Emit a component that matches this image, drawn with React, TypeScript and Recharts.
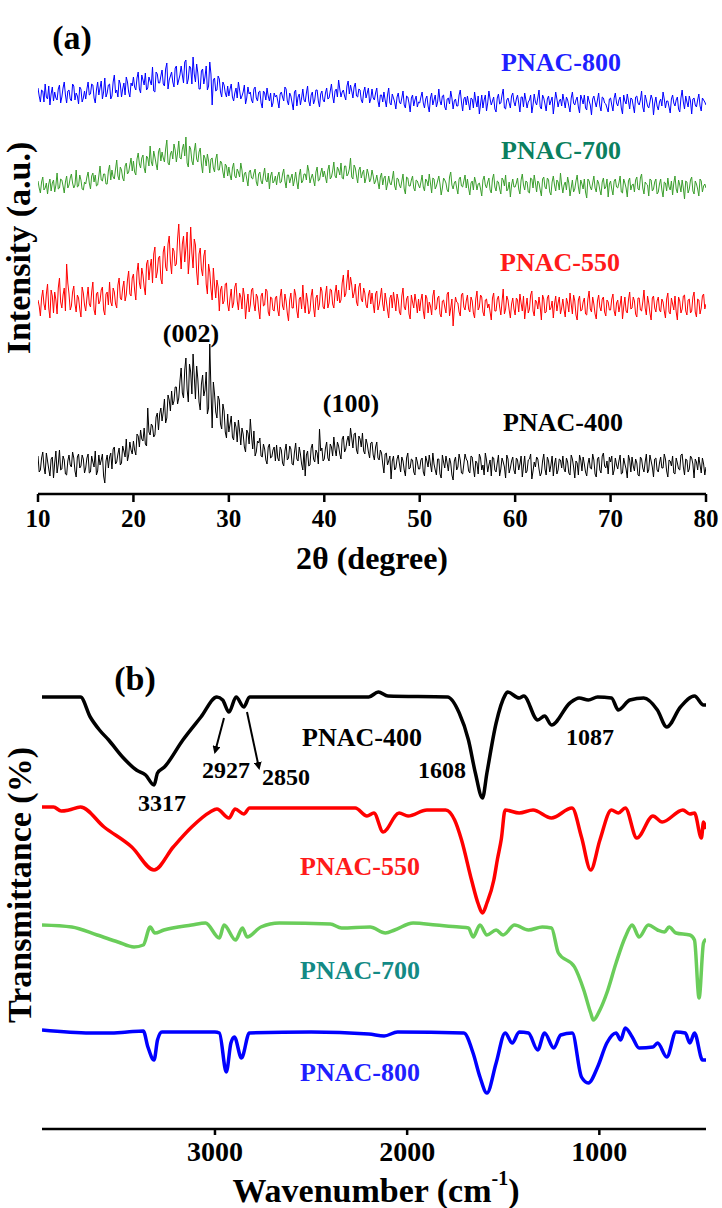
import { LineChart, Line, XAxis, YAxis } from "recharts";

const SERIF = '"Liberation Serif", "Times New Roman", Times, serif';

// ---- (a) XRD, 2θ scan 10–80° ----
// main readings every 0.25°, plus the readings half-way between them
const TWO_THETA_START = 10;
const TWO_THETA_STEP = 0.25;
const XRD_TICKS = [10, 20, 30, 40, 50, 60, 70, 80];

const XRD_400 = [
  38, 24, 42, 20, 33, 18, 37, 31, 21, 44, 25, 34, 19, 39, 27, 36, 17, 40, 28, 35,
  26, 40, 22, 32, 43, 23, 29, 40, 11, 39, 37, 25, 47, 32, 46, 31, 43, 55, 39, 44,
  53, 39, 58, 64, 53, 50, 86, 59, 68, 59, 81, 80, 73, 95, 76, 94, 103, 93, 107, 96,
  126, 96, 136, 92, 122, 140, 95, 115, 84, 119, 104, 80, 150, 66, 100, 76, 94, 65, 83, 56,
  62, 78, 54, 67, 74, 49, 60, 42, 61, 75, 45, 38, 53, 56, 37, 45, 30, 50, 37, 47,
  49, 33, 44, 28, 50, 36, 45, 29, 51, 33, 40, 24, 18, 43, 29, 50, 32, 41, 65, 46,
  35, 52, 33, 47, 57, 38, 48, 35, 58, 45, 58, 66, 46, 61, 40, 55, 61, 40, 50, 36,
  52, 34, 52, 34, 41, 21, 41, 33, 15, 38, 26, 39, 22, 33, 18, 41, 26, 34, 19, 32,
  25, 36, 18, 33, 39, 22, 30, 19, 35, 16, 32, 38, 23, 31, 14, 37, 27, 34, 20, 40,
  33, 21, 37, 17, 31, 40, 24, 19, 34, 29, 18, 36, 22, 39, 25, 32, 16, 35, 26, 37,
  20, 34, 30, 17, 38, 23, 35, 15, 32, 37, 25, 21, 40, 19, 33, 29, 18, 36, 24, 34,
  38, 22, 32, 19, 35, 16, 31, 39, 23, 30, 18, 36, 25, 34, 17, 37, 21, 41, 26, 20,
  32, 19, 36, 25, 39, 21, 30, 16, 34, 37, 23, 31, 18, 35, 22, 40, 24, 33, 17, 36,
  22, 37, 26, 35, 17, 33, 38, 20, 31, 24, 40, 19, 34, 25, 36, 16, 32, 37, 21, 30,
  27,
];
const XRD_400_MID = [
  22, 36, 27, 41, 25, 35, 16, 43, 30, 24, 38, 20, 33, 29, 42, 23, 37, 26, 39, 21,
  36, 21, 38, 27, 19, 39, 34, 18, 33, 26, 41, 45, 30, 40, 29, 48, 37, 33, 52, 40,
  44, 60, 47, 55, 66, 48, 62, 70, 57, 77, 64, 86, 82, 71, 99, 83, 89, 107, 90, 113,
  101, 124, 105, 130, 100, 118, 128, 92, 110, 98, 122, 86, 104, 112, 82, 98, 70, 90, 62, 80,
  70, 57, 72, 52, 63, 66, 47, 64, 50, 58, 63, 42, 51, 38, 50, 34, 47, 36, 44, 33,
  36, 47, 31, 43, 34, 48, 30, 42, 35, 47, 30, 44, 39, 28, 46, 35, 44, 30, 43, 33,
  46, 36, 50, 38, 45, 52, 40, 55, 42, 53, 48, 56, 60, 44, 58, 47, 43, 55, 42, 51,
  39, 47, 36, 44, 30, 40, 29, 38, 33, 24, 35, 30, 37, 24, 36, 25, 35, 22, 37, 25,
  34, 22, 38, 27, 30, 41, 24, 35, 20, 39, 26, 31, 36, 19, 33, 24, 40, 21, 30, 35,
  23, 38, 26, 33, 20, 36, 29, 41, 22, 34, 37, 24, 31, 18, 36, 27, 39, 21, 33, 24,
  36, 24, 38, 28, 21, 34, 40, 23, 27, 35, 18, 33, 25, 37, 22, 38, 30, 20, 35, 26,
  25, 36, 21, 39, 27, 33, 19, 34, 37, 22, 30, 26, 40, 20, 35, 24, 38, 28, 33, 37,
  38, 24, 29, 33, 20, 36, 25, 39, 22, 28, 35, 19, 37, 26, 32, 21, 39, 27, 35, 24,
  31, 26, 40, 23, 34, 28, 21, 36, 25, 39, 27, 35, 22, 38, 30, 35, 24, 29, 36, 19,
];

const XRD_550 = [
  194, 178, 204, 184, 210, 176, 198, 202, 180, 216, 186, 206, 230, 200, 188, 208, 182, 196, 177, 201,
  183, 207, 187, 212, 179, 202, 193, 207, 179, 202, 212, 188, 202, 186, 216, 194, 213, 199, 223, 198,
  220, 194, 231, 205, 219, 199, 234, 227, 211, 247, 222, 238, 210, 248, 223, 258, 220, 243, 230, 270,
  225, 258, 246, 220, 267, 226, 249, 209, 246, 218, 244, 200, 222, 194, 209, 214, 183, 208, 193, 211,
  183, 205, 191, 211, 184, 197, 206, 175, 200, 189, 206, 183, 197, 175, 201, 189, 203, 178, 196, 183,
  198, 178, 205, 184, 193, 173, 201, 186, 199, 176, 197, 209, 181, 193, 183, 205, 177, 199, 190, 203,
  185, 208, 191, 204, 186, 209, 204, 194, 219, 200, 224, 217, 196, 210, 188, 211, 192, 201, 186, 204,
  201, 181, 203, 189, 206, 183, 193, 176, 199, 202, 183, 194, 179, 206, 184, 198, 175, 192, 200, 181,
  183, 200, 175, 196, 192, 179, 204, 185, 198, 177, 194, 181, 202, 186, 168, 197, 191, 178, 201, 184,
  199, 182, 193, 176, 203, 187, 197, 178, 195, 190, 174, 201, 183, 198, 179, 205, 185, 194, 176, 196,
  179, 194, 200, 183, 175, 196, 185, 203, 178, 192, 197, 174, 195, 182, 199, 186, 176, 198, 191, 180,
  195, 177, 191, 201, 180, 193, 174, 198, 184, 196, 179, 203, 182, 190, 175, 199, 183, 197, 178, 192,
  184, 200, 178, 194, 189, 175, 197, 181, 202, 186, 193, 177, 196, 183, 204, 179, 191, 174, 198, 182,
  197, 182, 192, 176, 201, 180, 190, 198, 174, 193, 185, 199, 179, 195, 183, 202, 177, 194, 186, 200,
  190,
];
const XRD_550_MID = [
  188, 196, 190, 200, 186, 204, 181, 194, 206, 192, 199, 183, 211, 184, 202, 190, 199, 185, 207, 189,
  196, 190, 202, 184, 200, 190, 204, 184, 200, 189, 192, 206, 190, 209, 196, 206, 193, 214, 200, 216,
  204, 222, 211, 226, 207, 230, 214, 235, 240, 216, 236, 215, 242, 227, 250, 232, 246, 228, 255, 244,
  250, 232, 262, 236, 241, 255, 222, 240, 225, 238, 210, 230, 205, 226, 196, 207, 204, 190, 210, 190,
  196, 186, 207, 193, 201, 185, 198, 190, 182, 204, 190, 200, 184, 198, 188, 205, 182, 197, 184, 196,
  184, 197, 188, 200, 181, 194, 186, 205, 183, 195, 185, 190, 201, 180, 198, 187, 196, 184, 207, 187,
  199, 186, 205, 190, 201, 193, 191, 211, 197, 213, 204, 209, 201, 192, 207, 195, 206, 189, 199, 190,
  190, 200, 184, 197, 190, 201, 184, 196, 186, 193, 200, 182, 198, 187, 195, 180, 199, 186, 192, 195,
  194, 183, 199, 181, 188, 198, 184, 196, 180, 193, 187, 200, 178, 195, 185, 192, 182, 199, 187, 193,
  185, 197, 181, 195, 184, 199, 182, 194, 186, 182, 196, 183, 195, 187, 192, 180, 198, 184, 190, 185,
  196, 182, 191, 198, 187, 181, 199, 183, 194, 185, 187, 199, 181, 196, 184, 193, 190, 183, 197, 186,
  184, 196, 182, 190, 199, 179, 194, 183, 192, 180, 195, 185, 197, 180, 193, 187, 195, 182, 194, 184,
  195, 183, 191, 182, 198, 187, 183, 194, 185, 197, 180, 196, 184, 192, 186, 198, 181, 196, 186, 193,
  184, 195, 183, 195, 182, 196, 184, 182, 197, 181, 198, 183, 194, 181, 197, 182, 195, 180, 198, 185,
];

const XRD_700 = [
  313, 301, 317, 306, 300, 315, 311, 302, 321, 306, 314, 301, 318, 309, 320, 306, 324, 308, 314, 304,
  310, 322, 305, 321, 319, 309, 328, 313, 320, 310, 329, 324, 315, 334, 314, 324, 313, 331, 322, 336,
  333, 319, 341, 326, 339, 321, 336, 348, 328, 337, 324, 346, 342, 332, 354, 329, 343, 350, 332, 353,
  335, 350, 357, 327, 345, 329, 351, 332, 346, 321, 336, 340, 321, 336, 322, 340, 324, 331, 316, 328,
  327, 314, 331, 316, 322, 331, 312, 322, 308, 324, 315, 325, 308, 322, 310, 326, 312, 305, 322, 313,
  309, 322, 312, 325, 306, 319, 316, 308, 322, 305, 325, 313, 320, 329, 311, 320, 308, 327, 314, 326,
  323, 311, 329, 317, 332, 316, 324, 331, 315, 328, 320, 336, 315, 326, 311, 327, 321, 311, 325, 312,
  324, 310, 319, 305, 321, 316, 304, 318, 309, 323, 304, 315, 306, 320, 300, 316, 308, 318, 303, 313,
  306, 319, 303, 313, 320, 301, 315, 308, 318, 299, 316, 311, 302, 322, 305, 313, 300, 317, 307, 319,
  315, 299, 313, 317, 304, 311, 298, 318, 306, 316, 301, 320, 303, 312, 300, 314, 319, 305, 297, 315,
  307, 316, 300, 320, 304, 312, 301, 315, 319, 302, 311, 298, 317, 305, 314, 299, 318, 303, 312, 321,
  301, 312, 317, 298, 314, 305, 319, 300, 310, 315, 296, 313, 304, 318, 302, 311, 299, 316, 307, 297,
  313, 299, 315, 306, 318, 301, 311, 297, 316, 309, 302, 317, 304, 320, 300, 310, 298, 314, 305, 315,
  302, 315, 297, 311, 316, 304, 299, 318, 301, 309, 314, 295, 312, 305, 317, 300, 310, 298, 313, 308,
  306,
];
const XRD_700_MID = [
  306, 312, 304, 311, 310, 303, 314, 309, 305, 315, 308, 312, 306, 316, 311, 309, 307, 319, 305, 312,
  317, 311, 318, 312, 308, 318, 314, 320, 310, 323, 314, 317, 325, 318, 327, 316, 328, 320, 329, 323,
  322, 335, 330, 336, 326, 338, 328, 332, 343, 330, 342, 333, 336, 345, 331, 340, 335, 344, 341, 336,
  345, 338, 331, 348, 333, 343, 335, 342, 330, 339, 328, 333, 335, 326, 335, 324, 333, 322, 330, 318,
  319, 326, 318, 325, 317, 324, 320, 315, 322, 316, 321, 312, 320, 313, 319, 314, 321, 318, 311, 318,
  318, 311, 320, 313, 319, 311, 320, 314, 312, 319, 311, 320, 314, 323, 316, 314, 322, 313, 321, 317,
  317, 324, 315, 323, 318, 327, 319, 316, 328, 318, 325, 317, 329, 318, 324, 316, 324, 316, 320, 315,
  318, 313, 312, 317, 309, 318, 310, 311, 315, 308, 316, 309, 313, 305, 317, 308, 314, 306, 314, 309,
  312, 307, 315, 308, 311, 316, 305, 313, 310, 306, 314, 304, 317, 309, 311, 306, 315, 308, 313, 306,
  306, 311, 304, 312, 310, 305, 314, 309, 312, 304, 315, 307, 313, 305, 316, 308, 303, 312, 309, 307,
  311, 305, 314, 309, 313, 302, 316, 306, 311, 313, 304, 315, 307, 316, 302, 312, 309, 314, 304, 309,
  309, 304, 311, 306, 302, 313, 307, 314, 305, 302, 315, 307, 311, 306, 314, 304, 312, 305, 315, 310,
  305, 313, 307, 311, 302, 315, 306, 313, 304, 310, 314, 305, 316, 306, 312, 309, 315, 303, 312, 300,
  310, 304, 312, 303, 307, 313, 311, 305, 314, 302, 306, 313, 301, 314, 303, 313, 305, 315, 302, 310,
];

const XRD_800 = [
  406, 392, 403, 410, 395, 389, 407, 402, 394, 409, 397, 412, 391, 404, 393, 408, 401, 390, 405, 396,
  395, 412, 400, 409, 391, 412, 406, 395, 416, 401, 410, 398, 419, 404, 414, 397, 411, 417, 402, 411,
  417, 404, 422, 401, 414, 421, 406, 413, 427, 402, 420, 411, 424, 408, 431, 414, 422, 407, 428, 414,
  428, 411, 434, 415, 426, 437, 412, 421, 405, 425, 417, 404, 432, 389, 416, 404, 415, 397, 409, 397,
  398, 410, 393, 406, 412, 395, 402, 390, 407, 402, 391, 407, 393, 403, 386, 401, 406, 393, 387, 401,
  399, 386, 402, 393, 405, 389, 398, 384, 404, 397, 389, 405, 392, 408, 388, 402, 394, 404, 387, 403,
  392, 406, 396, 410, 391, 405, 414, 397, 404, 394, 413, 409, 396, 411, 397, 404, 391, 407, 401, 391,
  405, 394, 406, 387, 399, 402, 387, 406, 389, 396, 385, 401, 390, 403, 386, 397, 382, 399, 394, 387,
  391, 402, 386, 398, 382, 401, 394, 387, 405, 389, 399, 384, 396, 403, 385, 395, 388, 404, 383, 397,
  398, 384, 395, 402, 387, 380, 399, 394, 383, 403, 389, 397, 382, 400, 391, 405, 385, 396, 386, 401,
  388, 399, 382, 397, 401, 386, 394, 381, 400, 389, 404, 385, 396, 383, 398, 393, 380, 402, 387, 395,
  400, 386, 394, 382, 402, 389, 397, 381, 395, 399, 384, 393, 379, 398, 387, 401, 383, 396, 390, 382,
  396, 383, 401, 388, 397, 380, 393, 400, 385, 395, 381, 398, 389, 403, 382, 394, 386, 399, 379, 397,
  384, 395, 402, 386, 393, 381, 399, 388, 397, 382, 404, 385, 392, 398, 380, 396, 387, 400, 383, 394,
  389,
];
const XRD_800_MID = [
  398, 404, 392, 397, 408, 400, 393, 396, 405, 391, 406, 399, 403, 395, 410, 394, 398, 407, 392, 403,
  405, 399, 410, 396, 404, 399, 413, 402, 397, 409, 395, 412, 401, 397, 410, 405, 399, 412, 397, 408,
  407, 416, 405, 419, 409, 404, 417, 409, 403, 422, 411, 418, 410, 425, 405, 418, 412, 426, 409, 419,
  419, 432, 410, 428, 410, 420, 430, 405, 423, 410, 428, 408, 420, 414, 403, 418, 402, 412, 401, 408,
  405, 397, 401, 396, 404, 398, 409, 396, 400, 394, 405, 396, 402, 391, 403, 394, 398, 401, 391, 397,
  393, 400, 397, 407, 393, 401, 391, 402, 388, 400, 396, 394, 401, 393, 399, 390, 404, 393, 400, 394,
  401, 395, 403, 398, 403, 397, 405, 402, 398, 408, 400, 403, 407, 398, 405, 394, 402, 396, 406, 395,
  396, 401, 393, 399, 392, 394, 399, 391, 400, 392, 397, 392, 396, 389, 398, 391, 396, 388, 398, 392,
  397, 391, 395, 388, 396, 389, 399, 392, 393, 398, 387, 395, 390, 396, 393, 388, 399, 392, 395, 389,
  391, 396, 386, 393, 398, 390, 386, 399, 391, 395, 393, 385, 396, 390, 399, 386, 394, 391, 398, 392,
  395, 391, 397, 387, 394, 392, 399, 389, 392, 396, 387, 399, 390, 395, 389, 397, 391, 395, 393, 388,
  393, 397, 388, 396, 391, 394, 387, 399, 390, 386, 398, 389, 395, 392, 394, 388, 397, 391, 386, 395,
  389, 396, 391, 394, 386, 399, 390, 393, 396, 388, 397, 391, 394, 387, 399, 388, 392, 395, 391, 388,
  392, 388, 395, 393, 387, 395, 391, 394, 385, 396, 392, 398, 387, 393, 395, 389, 394, 388, 396, 392,
];

// ---- (b) FTIR, wavenumber (cm-1) / transmittance (offset, a.u.) ----
const FTIR_TICKS = [1000, 2000, 3000];

const FTIR_400_WN = [3900, 3700, 3649, 3601, 3553, 3481, 3409, 3361, 3317, 3299, 3263, 3167, 3073, 2990, 2960, 2927, 2890, 2850, 2820, 2200, 2150, 2100, 1790, 1729, 1681, 1645, 1608, 1585, 1537, 1490, 1478, 1417, 1393, 1321, 1285, 1249, 1153, 1105, 1057, 1009, 937, 901, 841, 769, 698, 649, 578, 505, 458, 445];
const FTIR_400_T = [432, 432, 412, 399, 389, 372, 359, 354, 344, 356, 362, 389, 412, 432, 429, 417, 432, 422, 432, 432, 437, 433, 432, 416, 389, 356, 331, 356, 406, 434, 437, 431, 433, 409, 413, 404, 426, 431, 429, 432, 431, 419, 429, 431, 419, 402, 422, 433, 424, 424];

const FTIR_550_WN = [3900, 3840, 3800, 3760, 3700, 3577, 3433, 3317, 3217, 3121, 3025, 2990, 2927, 2895, 2850, 2820, 2270, 2209, 2173, 2125, 2042, 1995, 1897, 1800, 1753, 1717, 1665, 1630, 1608, 1585, 1549, 1530, 1510, 1490, 1417, 1345, 1249, 1142, 1093, 1045, 997, 937, 901, 865, 805, 721, 673, 565, 529, 505, 469, 458, 445];
const FTIR_550_T = [322, 322, 318, 319, 322, 302, 282, 259, 282, 302, 317, 320, 311, 320, 315, 321, 321, 313, 316, 297, 316, 313, 319, 319, 309, 289, 249, 225, 216, 226, 249, 270, 290, 319, 316, 319, 311, 321, 292, 259, 289, 319, 316, 321, 291, 313, 307, 319, 315, 316, 291, 307, 300];

const FTIR_700_WN = [3900, 3745, 3613, 3505, 3421, 3373, 3337, 3313, 3266, 3121, 3049, 2977, 2953, 2893, 2857, 2833, 2761, 2665, 2400, 2341, 2193, 2113, 2065, 1969, 1849, 1729, 1681, 1657, 1621, 1585, 1537, 1501, 1441, 1369, 1297, 1249, 1213, 1129, 1081, 1045, 1031, 997, 961, 913, 865, 829, 793, 745, 697, 661, 637, 601, 529, 505, 481, 458, 445];
const FTIR_700_T = [204, 202, 194, 187, 182, 184, 202, 196, 199, 204, 206, 191, 204, 189, 201, 192, 202, 206, 205, 201, 202, 196, 199, 206, 204, 202, 201, 192, 204, 194, 199, 194, 204, 199, 202, 201, 176, 162, 139, 116, 109, 119, 136, 166, 192, 204, 192, 204, 199, 197, 202, 196, 194, 189, 131, 186, 190];

const FTIR_800_WN = [3900, 3649, 3553, 3457, 3373, 3349, 3317, 3299, 3276, 3000, 2977, 2941, 2917, 2899, 2862, 2821, 2500, 2200, 2120, 2050, 1705, 1657, 1621, 1585, 1537, 1490, 1453, 1417, 1369, 1321, 1285, 1237, 1201, 1141, 1093, 1057, 1009, 961, 913, 889, 865, 829, 793, 721, 697, 649, 601, 553, 529, 505, 463, 445];
const FTIR_800_T = [99, 96, 96, 97, 98, 82, 69, 89, 97, 97, 96, 57, 86, 92, 71, 96, 97, 95, 93, 97, 96, 76, 52, 36, 66, 96, 86, 97, 96, 79, 96, 81, 94, 96, 52, 46, 62, 86, 96, 89, 101, 92, 81, 82, 86, 72, 97, 96, 86, 96, 69, 69];

// interleave the main readings with the half-step ones
const xrdData: Record<string, number>[] = [];
XRD_400.forEach((v, i) => {
  const t = TWO_THETA_START + i * TWO_THETA_STEP;
  xrdData.push({ t, p400: v, p550: XRD_550[i], p700: XRD_700[i], p800: XRD_800[i] });
  if (i < XRD_400_MID.length) {
    xrdData.push({
      t: t + TWO_THETA_STEP / 2,
      p400: XRD_400_MID[i],
      p550: XRD_550_MID[i],
      p700: XRD_700_MID[i],
      p800: XRD_800_MID[i],
    });
  }
});

const zip = (wn: number[], t: number[]) => wn.map((w, i) => ({ wn: w, t: t[i] }));
const ftir400 = zip(FTIR_400_WN, FTIR_400_T);
const ftir550 = zip(FTIR_550_WN, FTIR_550_T);
const ftir700 = zip(FTIR_700_WN, FTIR_700_T);
const ftir800 = zip(FTIR_800_WN, FTIR_800_T);

const frame = { stroke: "#000", strokeWidth: 2.5 };
const bold = { fontFamily: SERIF, fontWeight: 700 };

function Label({ x, y, size = 26, fill = "#000", children, rotate }: any) {
  return (
    <text
      x={x}
      y={y}
      fill={fill}
      fontSize={size}
      fontFamily={SERIF}
      fontWeight={700}
      textAnchor="middle"
      dominantBaseline="central"
      transform={rotate ? `rotate(${rotate} ${x} ${y})` : undefined}
    >
      {children}
    </text>
  );
}

export default function App() {
  return (
    <div style={{ position: "absolute", left: 0, top: 0, width: 722, height: 1208, background: "#fff" }}>
      <div style={{ position: "absolute", left: 0, top: 0 }}>
        <LineChart width={722} height={560} data={xrdData} margin={{ top: 3, right: 16, bottom: 26, left: 38 }}>
          <XAxis
            dataKey="t"
            type="number"
            domain={[10, 80]}
            ticks={XRD_TICKS}
            interval={0}
            allowDataOverflow
            height={40}
            tickSize={8}
            tickMargin={7}
            axisLine={frame}
            tickLine={frame}
            tick={{ fill: "#000", fontSize: 25, ...bold }}
          />
          <XAxis xAxisId="top" orientation="top" type="number" domain={[10, 80]} height={0} tick={false} tickLine={false} axisLine={frame} />
          <YAxis type="number" domain={[0, 491]} width={0} tick={false} tickLine={false} axisLine={frame} allowDataOverflow />
          <YAxis yAxisId="right" orientation="right" type="number" domain={[0, 491]} width={0} tick={false} tickLine={false} axisLine={frame} />
          <Line dataKey="p400" stroke="#000000" strokeWidth={1} dot={false} isAnimationActive={false} />
          <Line dataKey="p550" stroke="#ff0000" strokeWidth={1} dot={false} isAnimationActive={false} />
          <Line dataKey="p700" stroke="#3a9e2c" strokeWidth={1} dot={false} isAnimationActive={false} />
          <Line dataKey="p800" stroke="#0000ff" strokeWidth={1} dot={false} isAnimationActive={false} />
        </LineChart>
      </div>

      <div style={{ position: "absolute", left: 0, top: 600 }}>
        <LineChart width={722} height={608} margin={{ top: 41, right: 16, bottom: 35, left: 42 }}>
          <XAxis
            dataKey="wn"
            type="number"
            domain={[445, 3900]}
            reversed
            ticks={FTIR_TICKS}
            interval={0}
            allowDataOverflow
            height={44}
            tickSize={6}
            tickMargin={6}
            axisLine={frame}
            tickLine={frame}
            tick={{ fill: "#000", fontSize: 28, ...bold }}
          />
          <XAxis xAxisId="top" orientation="top" type="number" domain={[445, 3900]} height={0} tick={false} tickLine={false} axisLine={frame} />
          <YAxis type="number" domain={[0, 488]} width={0} tick={false} tickLine={false} axisLine={frame} allowDataOverflow />
          <YAxis yAxisId="right" orientation="right" type="number" domain={[0, 488]} width={0} tick={false} tickLine={false} axisLine={frame} />
          <Line data={ftir400} dataKey="t" type="monotone" stroke="#000000" strokeWidth={3.5} dot={false} isAnimationActive={false} />
          <Line data={ftir550} dataKey="t" type="monotone" stroke="#ff0000" strokeWidth={3.5} dot={false} isAnimationActive={false} />
          <Line data={ftir700} dataKey="t" type="monotone" stroke="#6acd5a" strokeWidth={3.5} dot={false} isAnimationActive={false} />
          <Line data={ftir800} dataKey="t" type="monotone" stroke="#0000ff" strokeWidth={3.5} dot={false} isAnimationActive={false} />
        </LineChart>
      </div>

      <svg width={722} height={1208} style={{ position: "absolute", left: 0, top: 0, pointerEvents: "none" }}>
        <defs>
          <marker id="arrow" markerWidth="8" markerHeight="8" refX="6" refY="4" orient="auto" markerUnits="userSpaceOnUse">
            <path d="M0,0 L8,4 L0,8 Z" fill="#000" />
          </marker>
        </defs>

        <Label x={72} y={37} size={34}>(a)</Label>
        <Label x={561} y={62} fill="#1f1fff">PNAC-800</Label>
        <Label x={561} y={150} fill="#0b7f5f">PNAC-700</Label>
        <Label x={560} y={262} fill="#ff1a1a">PNAC-550</Label>
        <Label x={191} y={333}>(002)</Label>
        <Label x={351} y={403}>(100)</Label>
        <Label x={563} y={422}>PNAC-400</Label>
        <Label x={372} y={558} size={32}>2θ (degree)</Label>
        <Label x={18} y={248} size={34} rotate={-90}>Intensity (a.u.)</Label>

        <Label x={135} y={678} size={34}>(b)</Label>
        <Label x={362} y={737}>PNAC-400</Label>
        <Label x={162} y={803} size={24}>3317</Label>
        <Label x={226} y={770} size={24}>2927</Label>
        <Label x={286} y={777} size={24}>2850</Label>
        <Label x={442} y={770} size={24}>1608</Label>
        <Label x={590} y={737} size={24}>1087</Label>
        <line x1={224} y1={718} x2={215} y2={752} stroke="#000" strokeWidth={2} markerEnd="url(#arrow)" />
        <line x1={247} y1={712} x2={259} y2={768} stroke="#000" strokeWidth={2} markerEnd="url(#arrow)" />
        <Label x={360} y={866} fill="#ff1a1a">PNAC-550</Label>
        <Label x={360} y={970} fill="#138a85">PNAC-700</Label>
        <Label x={360} y={1072} fill="#1f1fff">PNAC-800</Label>
        <text x={376} y={1190} fontSize={34} fontFamily={SERIF} fontWeight={700} textAnchor="middle" dominantBaseline="central">
          Wavenumber (cm<tspan fontSize={20} dy={-12}>-1</tspan><tspan dy={12}>)</tspan>
        </text>
        <Label x={19} y={885} size={34} rotate={-90}>Transmittance (%)</Label>
      </svg>
    </div>
  );
}
